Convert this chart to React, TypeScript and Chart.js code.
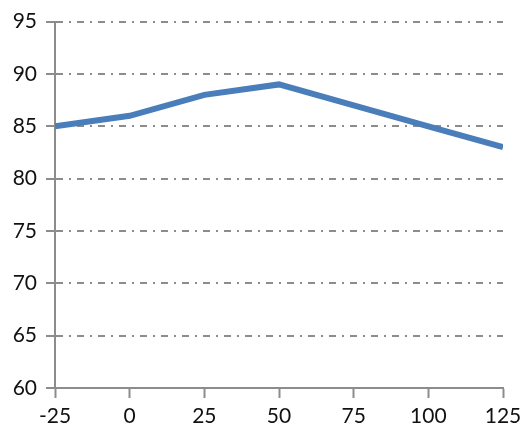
import React, { useEffect, useRef } from "react";
import { Chart, registerables } from "chart.js";

Chart.register(...registerables);

const xValues = [-25, 0, 25, 50, 75, 100, 125];
const yValues = [85, 86, 88, 89, 87, 85, 83];
const yTicks = [60, 65, 70, 75, 80, 85, 90, 95];
const xTicks = [-25, 0, 25, 50, 75, 100, 125];

export default function App() {
  const ref = useRef<HTMLCanvasElement | null>(null);
  useEffect(() => {
    document.body.style.margin = "0";
    const ctx = ref.current!;
    const gray = "#8c8c8c";
    const font = { family: "Lato, 'Liberation Sans', sans-serif", size: 21 };
    const chart = new Chart(ctx, {
      type: "line",
      data: {
        datasets: [
          {
            data: xValues.map((x, i) => ({ x, y: yValues[i] })),
            borderColor: "#4a7ebb",
            borderWidth: 6,
            pointRadius: 0,
            tension: 0,
            fill: false,
          },
        ],
      },
      options: {
        animation: false,
        responsive: false,
        maintainAspectRatio: false,
        devicePixelRatio: 1,
        layout: { padding: { top: 20, right: 26, left: 0, bottom: 0 } },
        plugins: { legend: { display: false }, tooltip: { enabled: false } },
        scales: {
          x: {
            type: "linear",
            min: -25,
            max: 125,
            afterBuildTicks: (s: any) => {
              s.ticks = xTicks.map((v) => ({ value: v }));
            },
            afterFit: (s: any) => {
              s.height = 46;
            },
            grid: {
              drawOnChartArea: false,
              drawTicks: true,
              tickLength: 10,
              tickColor: gray,
              tickWidth: 2,
            },
            border: { display: true, color: gray, width: 2 },
            ticks: { color: "#111", font, padding: 6, maxRotation: 0, autoSkip: false },
          },
          y: {
            type: "linear",
            min: 60,
            max: 95,
            afterBuildTicks: (s: any) => {
              s.ticks = yTicks.map((v) => ({ value: v }));
            },
            afterFit: (s: any) => {
              s.width = 55;
            },
            grid: {
              color: gray,
              lineWidth: 2,
              drawTicks: true,
              tickLength: 9,
              tickColor: gray,
              tickWidth: 2,
            },
            border: { display: true, color: gray, width: 2, dash: [7, 6, 2, 6] },
            ticks: { color: "#111", font, padding: 9, autoSkip: false },
          },
        },
      },
    });
    return () => chart.destroy();
  }, []);
  return (
    <div style={{ width: 529, height: 434 }}>
      <canvas ref={ref} width={529} height={434} style={{ display: "block" }} />
    </div>
  );
}
